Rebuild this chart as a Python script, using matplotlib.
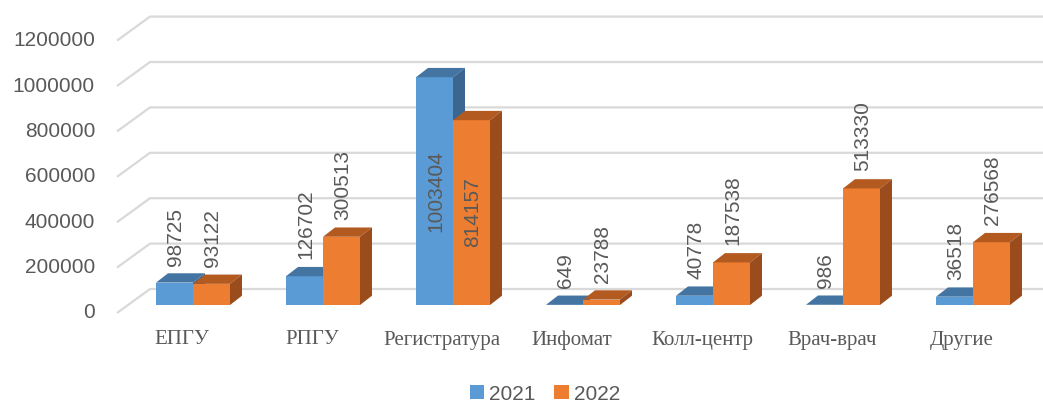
import matplotlib
matplotlib.use("Agg")
import matplotlib.pyplot as plt
from matplotlib.patches import Polygon, Patch

categories = ["ЕПГУ", "РПГУ", "Регистратура", "Инфомат", "Колл-центр", "Врач-врач", "Другие"]
series_names = ["2021", "2022"]
values_2021 = [98725, 126702, 1003404, 649, 40778, 986, 36518]
values_2022 = [93122, 300513, 814157, 23788, 187538, 513330, 276568]
y_ticks = [0, 200000, 400000, 600000, 800000, 1000000, 1200000]

front_colors = ["#5B9BD5", "#ED7D31"]
top_colors = ["#4374A2", "#B35A21"]
side_colors = ["#3B6690", "#9A4C1C"]
grid_color = "#D9D9D9"
text_color = "#595959"

W, H = 1043, 403
fig = plt.figure(figsize=(W / 100, H / 100), dpi=100)
ax = fig.add_axes([0, 0, 1, 1])

# pixel mapping: x_px = 193 + 130*i ; y_px(from top) = 305 - 227e-6*v
PX_X = 130.0
PX_Y = 227e-6
x0_px, base_px = 193.0, 305.0
ax.set_xlim(-x0_px / PX_X, (W - x0_px) / PX_X)
ax.set_ylim((base_px - H) / PX_Y, base_px / PX_Y)
ax.axis("off")

def dx(px):
    return px / PX_X

def dy(px):
    return px / PX_Y

# floor / wall geometry (in px relative to bar base)
floor_front = -8.0   # px below bar base (front edge)
floor_back = 16.0    # px above bar base (back wall)
wall_left_back = dx(150 - x0_px)
wall_left_front = dx(117 - x0_px)
right_end = dx(W + 5 - x0_px)

for t in y_ticks:
    yb = t + dy(floor_back)
    yf = t + dy(floor_front)
    ax.plot([wall_left_front, wall_left_back, right_end], [yf, yb, yb],
            color=grid_color, lw=1.6, solid_capstyle="butt", zorder=1)
    ax.text(dx(95 - x0_px), yf, f"{t}", ha="right", va="center",
            fontsize=15, color=text_color, family="Liberation Sans")

bar_w = dx(37)
ddx = dx(12)
ddy = dy(9.3)
series = [values_2021, values_2022]

for i, cat in enumerate(categories):
    for s, vals in enumerate(series):
        v = vals[i]
        xl = i - bar_w if s == 0 else i
        xr = xl + bar_w
        z = 2 + s
        ax.bar(xl, v, width=bar_w, align="edge", color=front_colors[s],
               edgecolor="none", zorder=z)
        ax.add_patch(Polygon([(xl, v), (xr, v), (xr + ddx, v + ddy), (xl + ddx, v + ddy)],
                             closed=True, facecolor=top_colors[s], edgecolor="none", zorder=z))
        ax.add_patch(Polygon([(xr, 0), (xr, v), (xr + ddx, v + ddy), (xr + ddx, ddy)],
                             closed=True, facecolor=side_colors[s], edgecolor="none", zorder=z))
        xc = (xl + xr) / 2 + dx(1)
        if v > 700000:
            ax.text(xc, v / 2, f"{v}", rotation=90, ha="center", va="center",
                    fontsize=15, color=text_color, family="Liberation Sans", zorder=10)
        else:
            ax.text(xc, v + dy(17), f"{v}", rotation=90, ha="center", va="bottom",
                    fontsize=15, color=text_color, family="Liberation Sans", zorder=10)
    ax.text(i - dx(11), dy(base_px - 340), cat, ha="center", va="center",
            fontsize=15, color=text_color, family="Liberation Serif")

handles = [Patch(facecolor=front_colors[k], edgecolor="none", label=series_names[k]) for k in range(2)]
leg = fig.legend(handles=handles, loc="center", bbox_to_anchor=(545 / W, 1 - 394 / H),
                 ncol=2, frameon=False, handlelength=0.68, handleheight=0.68,
                 handletextpad=0.25, columnspacing=0.9,
                 prop={"family": "Liberation Sans", "size": 15})
for t in leg.get_texts():
    t.set_color(text_color)

fig.savefig("out.png", dpi=100)
